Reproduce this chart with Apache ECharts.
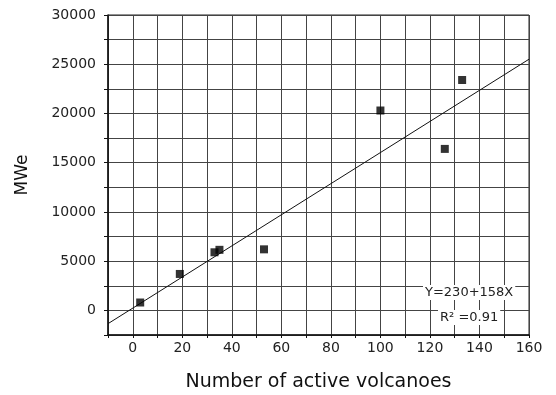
<!DOCTYPE html>
<html>
<head>
<meta charset="utf-8">
<script src="https://cdn.jsdelivr.net/npm/echarts@6/dist/echarts.min.js"></script>
<style>
  html, body { margin: 0; padding: 0; background: #fff; }
  #chart { width: 556px; height: 395px; }
</style>
</head>
<body>
<div id="chart"></div>
<script>
// volcanoes vs installed geothermal MWe
const volcanoes = [3, 19, 33, 35, 53, 100, 126, 133];
const mwe = [800, 3700, 5900, 6150, 6200, 20300, 16400, 23400];

// regression from the figure: Y = 230 + 158X
const intercept = 230;
const slope = 158;
const lineX = [-10, 160];

const fontFam = '"DejaVu Sans", "Liberation Sans", sans-serif';

let points = [];
for (let i = 0; i < volcanoes.length; i++) {
    points.push([volcanoes[i], mwe[i]]);
}
let fit = [];
for (let x of lineX) {
    fit.push([x, intercept + slope * x]);
}

let myChart = echarts.init(document.getElementById('chart'));
let option = {
    animation: false,
    backgroundColor: '#fff',
    grid: {
        left: 108, right: 27, top: 15, bottom: 60,
        outerBoundsMode: 'none',
        show: true, borderColor: '#222', borderWidth: 1
    },
    xAxis: {
        type: 'value',
        min: -10, max: 160, interval: 10,
        name: 'Number of active volcanoes',
        nameLocation: 'middle',
        nameGap: 38,
        nameTextStyle: { fontFamily: fontFam, fontSize: 19, color: '#111' },
        axisLine: { onZero: false, lineStyle: { color: '#111', width: 1.5 } },
        axisTick: { show: true, length: 3, lineStyle: { color: '#111' } },
        axisLabel: {
            fontFamily: fontFam, fontSize: 14, color: '#222', margin: 6,
            formatter: v => (v >= 0 && v % 20 === 0) ? String(v) : ''
        },
        splitLine: { show: true, lineStyle: { color: '#444', width: 1 } }
    },
    yAxis: {
        type: 'value',
        min: -2500, max: 30000, interval: 2500,
        name: 'MWe',
        nameLocation: 'middle',
        nameGap: 77,
        nameTextStyle: { fontFamily: fontFam, fontSize: 17, color: '#111' },
        axisLine: { onZero: false, lineStyle: { color: '#111', width: 1.5 } },
        axisTick: { show: true, length: 4, lineStyle: { color: '#111' } },
        axisLabel: {
            fontFamily: fontFam, fontSize: 14, color: '#222', margin: 12,
            formatter: v => (v >= 0 && v % 5000 === 0) ? String(v) : ''
        },
        splitLine: { show: true, lineStyle: { color: '#444', width: 1 } }
    },
    series: [
        {
            type: 'line',
            data: fit,
            symbol: 'none',
            lineStyle: { color: '#111', width: 1 },
            z: 3
        },
        {
            type: 'scatter',
            data: points,
            symbol: 'rect',
            symbolSize: 8,
            itemStyle: { color: '#000' },
            z: 4
        }
    ],
    graphic: [
        {
            type: 'text', left: 423, top: 285, z: 10,
            style: {
                text: 'Y=230+158X', fontFamily: fontFam, fontSize: 13, fill: '#222',
                backgroundColor: '#fff', padding: [1, 2]
            }
        },
        {
            type: 'text', left: 438, top: 310, z: 10,
            style: {
                text: 'R² =0.91', fontFamily: fontFam, fontSize: 13, fill: '#222',
                backgroundColor: '#fff', padding: [1, 2]
            }
        }
    ]
};
option && myChart.setOption(option);
</script>
</body>
</html>
